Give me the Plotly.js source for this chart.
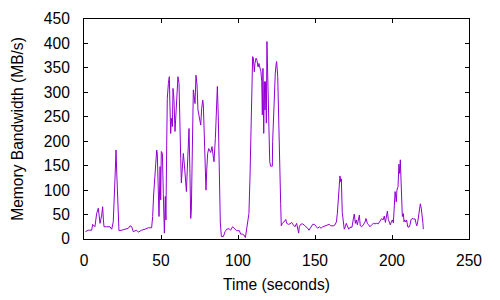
<!DOCTYPE html>
<html>
<head>
<meta charset="utf-8">
<script src="https://cdn.plot.ly/plotly-3.0.1.min.js"></script>
<style>html,body{margin:0;padding:0;background:#fff;}#chart{width:500px;height:300px;}</style>
</head>
<body>
<div id="chart"></div>
<script>
const timeSeconds = [
0.9,2.8,5.0,5.6,7.1,8.2,9.3,10.4,11.5,12.1,12.6,13.0,14.7,16.9,18.0,19.0,20.1,20.8,21.2,21.9,
22.7,24.5,26.6,28.8,29.9,31.0,32.0,34.2,35.3,37.4,39.6,41.8,43.9,44.6,45.2,46.1,46.8,47.2,47.6,48.3,
48.7,49.4,49.8,50.2,50.9,51.5,52.2,52.8,53.2,53.7,54.1,54.8,55.4,55.8,56.3,56.7,57.4,57.8,58.4,59.1,
59.7,60.4,61.0,61.7,62.3,62.8,63.2,63.9,64.5,65.2,65.8,66.5,67.1,67.7,68.2,68.8,69.3,69.7,70.3,71.0,
71.4,72.1,72.7,73.4,74.0,74.9,75.8,76.4,77.1,77.5,78.1,78.8,79.2,79.7,80.3,81.0,81.6,82.3,83.1,83.5,
84.4,85.3,86.1,86.6,87.2,87.9,88.5,89.2,90.5,91.6,92.6,94.2,95.2,96.5,98.1,99.1,100.9,101.7,103.0,103.9,
104.8,105.6,106.5,107.1,107.8,108.4,109.1,109.5,110.0,110.6,111.0,111.7,112.3,113.0,113.6,114.3,114.9,115.4,115.8,116.2,
116.7,117.1,117.5,118.0,118.4,118.8,119.3,119.9,120.6,121.2,122.3,122.5,123.2,123.8,124.2,124.7,125.1,125.8,126.4,127.1,
127.7,128.1,128.8,129.9,131.0,131.6,132.7,133.8,134.8,135.9,137.0,138.1,138.7,139.4,139.8,140.7,141.8,142.9,144.0,145.0,
146.1,147.2,148.5,149.6,150.6,151.7,152.8,153.9,155.0,156.3,157.4,158.4,159.3,160.2,161.9,163.0,163.9,164.5,165.2,165.8,
166.2,166.7,167.1,167.7,168.4,169.0,169.7,170.3,171.0,171.9,172.7,174.0,174.9,175.5,176.2,176.8,177.5,178.1,178.8,179.4,
180.3,181.4,182.5,183.1,184.0,184.8,185.7,186.8,187.9,189.0,190.0,191.1,192.2,193.3,194.2,195.0,195.7,196.3,197.0,197.6,
198.3,198.9,199.6,200.2,200.9,201.5,202.0,202.4,202.8,203.2,203.9,204.5,205.0,205.4,205.9,206.3,206.7,207.4,207.8,208.2,
208.9,209.5,210.2,211.0,211.7,212.3,213.0,213.9,215.0,215.6,216.1,216.7,217.3,218.0,218.4,219.0,219.7,220.1,220.3
];
const bandwidthMBs = [
15,18,18,30,25,52,63,32,49,66,39,25,25,25,20,35,121,182,141,59,
17,18,20,22,27,25,15,18,14,18,20,23,23,46,90,131,168,182,175,100,
46,148,80,179,175,93,12,87,39,192,288,318,332,274,216,247,230,308,286,220,
254,295,332,318,260,165,115,148,175,151,121,97,145,192,226,134,42,59,202,305,
295,277,335,315,264,243,233,267,284,274,226,162,100,141,175,185,179,177,189,175,
158,206,274,312,250,127,35,5,5,15,20,21,18,25,20,17,17,10,10,8,
3,22,46,52,127,237,329,373,370,342,359,370,366,352,359,349,342,322,254,349,
216,322,264,322,237,404,342,223,158,149,149,199,271,312,339,356,363,332,230,155,
73,27,32,35,40,32,30,31,34,29,25,32,22,12,25,30,31,29,25,23,
18,25,30,30,27,22,25,22,25,27,27,29,30,27,27,29,35,52,81,117,
129,117,123,54,25,20,25,32,27,20,24,24,41,51,32,39,29,39,49,27,
25,29,35,42,32,29,25,29,32,31,32,31,37,42,39,47,34,44,57,40,
35,29,35,39,33,63,97,87,76,100,107,153,134,162,102,49,46,52,35,39,
35,39,25,24,29,39,42,41,41,32,27,35,47,63,72,63,49,32,20
];
const xTickVals = [0,50,100,150,200,250];
const yTickVals = [0,50,100,150,200,250,300,350,400,450];
const xTitle = 'Time (seconds)';
const yTitle = 'Memory Bandwidth (MB/s)';

const fontFamily = '"Liberation Sans", Arial, sans-serif';
const fontSize = 15.6;
const axisCommon = {
  showgrid: false, zeroline: false, showline: true, linecolor: '#000', linewidth: 1,
  mirror: 'ticks', ticks: 'inside', ticklen: 4, tickwidth: 1, tickcolor: '#000',
  tickfont: {family: fontFamily, size: fontSize, color: '#000'}, automargin: false
};
Plotly.newPlot('chart', [{
  x: timeSeconds, y: bandwidthMBs, type: 'scatter', mode: 'lines',
  line: {color: '#9400D3', width: 1}, hoverinfo: 'skip'
}], {
  width: 500, height: 300,
  margin: {l: 84, r: 31, t: 19, b: 61},
  paper_bgcolor: '#fff', plot_bgcolor: '#fff', showlegend: false,
  xaxis: Object.assign({}, axisCommon, {
    range: [0, 250], tickvals: xTickVals, ticklabelstandoff: 7,
    title: {text: xTitle, font: {family: fontFamily, size: fontSize, color: '#000'}, standoff: 11}
  }),
  yaxis: Object.assign({}, axisCommon, {
    range: [0, 450], tickvals: yTickVals, ticklabelstandoff: 10,
    title: {text: yTitle, font: {family: fontFamily, size: fontSize, color: '#000'}, standoff: 16}
  })
}, {staticPlot: true, displayModeBar: false});
</script>
</body>
</html>
